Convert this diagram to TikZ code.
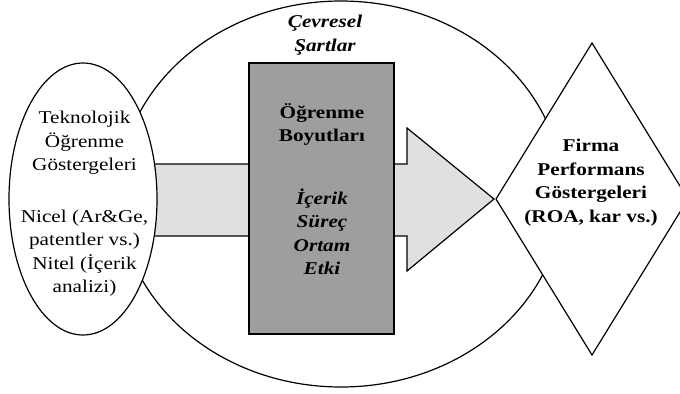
\documentclass[tikz,border=0pt]{standalone}
\usepackage{fontspec}
\setmainfont{Liberation Serif}[FakeStretch=1.18]
\usetikzlibrary{shapes.geometric}
\newcommand\diagfont{\fontsize{13.5}{17.6}\selectfont}
\begin{document}
\begin{tikzpicture}[x=0.75pt,y=-0.75pt,
  outline/.style={draw=black, line width=0.9pt},
  txt/.style={align=center, inner sep=0pt, font=\diagfont},
  btxt/.style={align=center, inner sep=0pt, font=\diagfont\bfseries},
  bitxt/.style={align=center, inner sep=0pt, font=\diagfont\bfseries\itshape},
]
\clip (0,0) rectangle (680,393);
\fill[white] (0,0) rectangle (680,393);
% environment ellipse
\node[outline, ellipse, fill=white, minimum width=333pt, minimum height=289.5pt, inner sep=0pt] (env) at (341,194) {};
% block arrow
\coordinate (aS1) at (100,164);
\coordinate (aS2) at (407,164);
\coordinate (aH1) at (407,128);
\coordinate (aTip) at (494,199);
\coordinate (aH2) at (407,271);
\coordinate (aS3) at (407,236);
\coordinate (aS4) at (100,236);
\draw[outline, fill=black!12] (aS1) -- (aS2) -- (aH1) -- (aTip) -- (aH2) -- (aS3) -- (aS4) -- cycle;
% technology ellipse
\node[outline, ellipse, fill=white, minimum width=111pt, minimum height=204pt, inner sep=0pt] (tech) at (83,199) {};
% learning dimensions box
\node[outline, rectangle, fill=black!38, minimum width=108.75pt, minimum height=203.25pt, inner sep=0pt] (dims) at (321.5,198.5) {};
% performance diamond
\coordinate (dT) at (592,43);
\coordinate (dR) at (688,199);
\coordinate (dB) at (592,355);
\coordinate (dL) at (496,199);
\draw[outline, fill=white] (dT) -- (dR) -- (dB) -- (dL) -- cycle;
% texts
\node[bitxt] (cevre) at (325,35) {Çevresel\\Şartlar};
\node[txt] (techA) at (84.5,143) {Teknolojik\\Öğrenme\\Göstergeleri};
\node[txt] (techB) at (84.5,253) {Nicel (Ar\&Ge,\\patentler vs.)\\Nitel (İçerik\\analizi)};
\node[btxt] (dimsA) at (322,124.5) {Öğrenme\\Boyutları};
\node[bitxt] (dimsB) at (322,232) {İçerik\\Süreç\\Ortam\\Etki};
\node[btxt] (perf) at (591,182.5) {Firma\\Performans\\Göstergeleri\\(ROA, kar vs.)};
\end{tikzpicture}
\end{document}
